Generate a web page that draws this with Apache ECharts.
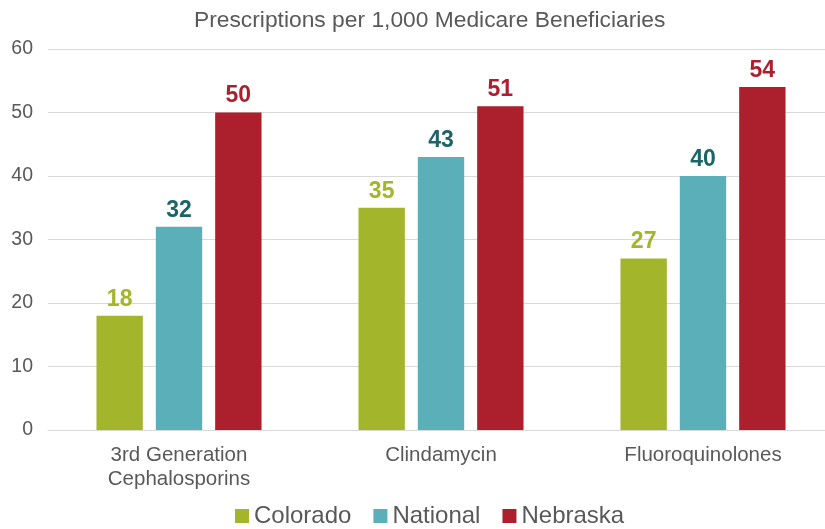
<!DOCTYPE html>
<html><head><meta charset="utf-8">
<script src="https://cdn.jsdelivr.net/npm/echarts@6/dist/echarts.min.js"></script>
<style>html,body{margin:0;padding:0;background:#fff}#c{width:825px;height:529px}</style>
</head><body><div id="c"></div>
<script>
const categories = ['3rd Generation\nCephalosporins', 'Clindamycin', 'Fluoroquinolones'];
const colorado = [18, 35, 27];
const national = [32, 43, 40];
const nebraska = [50, 51, 54];
const yTicks = [0, 10, 20, 30, 40, 50, 60];

const font = '"Liberation Sans", Arial, sans-serif';
const chart = echarts.init(document.getElementById('c'));
function ser(name, data, color, labelColor) {
  return {
    name, type: 'bar', data,
    barGap: '28%', barCategoryGap: '37%',
    itemStyle: { color },
    label: { show: true, position: 'top', distance: 5, color: labelColor,
      fontFamily: font, fontWeight: 'bold', fontSize: 23 }
  };
}
chart.setOption({
  animation: false,
  title: { text: 'Prescriptions per 1,000 Medicare Beneficiaries', left: 189, top: 4,
    textStyle: { fontFamily: font, fontSize: 22.8, fontWeight: 'normal', color: '#595959' } },
  legend: { bottom: -4, left: 230, itemWidth: 14, itemHeight: 14, itemGap: 22,
    icon: 'rect',
    textStyle: { fontFamily: font, fontSize: 24, color: '#595959' } },
  grid: { left: 48, top: 49, width: 786, height: 381, containLabel: false, outerBoundsMode: 'none' },
  xAxis: { type: 'category', data: categories,
    axisLine: { lineStyle: { color: '#d9d9d9' } }, axisTick: { show: false },
    axisLabel: { fontFamily: font, fontSize: 20.5, color: '#595959', margin: 13, lineHeight: 24 } },
  yAxis: { type: 'value', min: yTicks[0], max: yTicks[yTicks.length - 1], interval: 10,
    axisLine: { show: false }, axisTick: { show: false },
    splitLine: { lineStyle: { color: '#d9d9d9' } },
    axisLabel: { fontFamily: font, fontSize: 19.5, color: '#595959', margin: 15 } },
  series: [
    ser('Colorado', colorado, '#A3B52A', '#A3B52A'),
    ser('National', national, '#5AAFB8', '#1B6468'),
    ser('Nebraska', nebraska, '#AC1F2D', '#AC1F2D')
  ]
});
</script></body></html>
